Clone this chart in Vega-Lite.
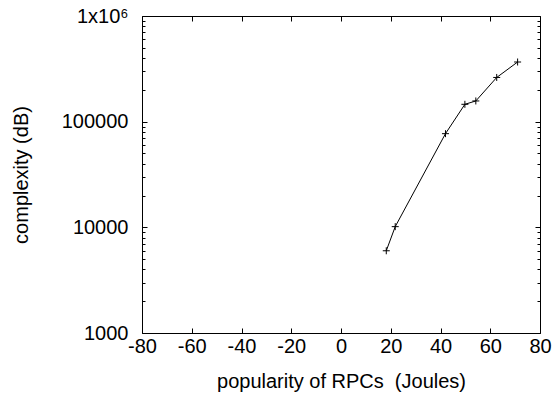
{
  "$schema": "https://vega.github.io/schema/vega-lite/v6.json",
  "autosize": "none",
  "width": 398,
  "height": 317,
  "padding": {"left": 142, "top": 16, "right": 20, "bottom": 68},
  "background": "white",
  "config": {
    "font": "Liberation Sans",
    "view": {"stroke": "black", "strokeWidth": 1},
    "axis": {
      "domain": false,
      "grid": false,
      "labelFont": "Liberation Sans",
      "labelFontSize": 20,
      "labelColor": "black",
      "titleFont": "Liberation Sans",
      "titleFontSize": 20,
      "titleFontWeight": "normal",
      "titleColor": "black",
      "tickColor": "black",
      "tickWidth": 1,
      "labelFlush": false,
      "labelOverlap": false
    }
  },
  "data": {
    "values": [
      {"x": 18.2, "y": 6000},
      {"x": 21.8, "y": 10150},
      {"x": 42.0, "y": 77000},
      {"x": 49.8, "y": 146000},
      {"x": 54.2, "y": 157000},
      {"x": 62.6, "y": 262000},
      {"x": 71.0, "y": 367000}
    ]
  },
  "layer": [
    {
      "mark": {"type": "line", "color": "black", "strokeWidth": 1},
      "encoding": {
        "x": {
          "field": "x", "type": "quantitative",
          "scale": {"domain": [-80, 80], "nice": false, "zero": false},
          "axis": {
            "orient": "bottom",
            "title": "popularity of RPCs \u00a0(Joules)",
            "values": [-80, -60, -40, -20, 0, 20, 40, 60, 80],
            "labelExpr": "'' + datum.value",
            "tickSize": -5,
            "labelPadding": 8,
            "titlePadding": 15
          }
        },
        "y": {
          "field": "y", "type": "quantitative",
          "scale": {"type": "log", "domain": [1000, 1000000], "nice": false},
          "axis": {
            "orient": "left",
            "title": "complexity (dB)",
            "values": [1000,2000,3000,4000,5000,6000,7000,8000,9000,10000,20000,30000,40000,50000,60000,70000,80000,90000,100000,200000,300000,400000,500000,600000,700000,800000,900000,1000000],
            "labelExpr": "datum.value == 1000000 ? '1x10\u2076' : (indexof([1000,10000,100000], datum.value) >= 0 ? format(datum.value, 'd') : '')",
            "tickSize": {"condition": {"test": "indexof([1000,10000,100000,1000000], datum.value) >= 0", "value": -5}, "value": -3},
            "labelPadding": 19,
            "titlePadding": 30
          }
        }
      }
    },
    {
      "mark": {"type": "point", "shape": "M-1,0H1M0,-1V1", "filled": false, "color": "black", "strokeWidth": 1, "size": 49, "opacity": 1},
      "encoding": {
        "x": {
          "field": "x", "type": "quantitative",
          "axis": {
            "orient": "top",
            "title": null,
            "labels": false,
            "values": [-80, -60, -40, -20, 0, 20, 40, 60, 80],
            "tickSize": -5
          }
        },
        "y": {
          "field": "y", "type": "quantitative",
          "axis": {
            "orient": "right",
            "title": null,
            "labels": false,
            "values": [1000,2000,3000,4000,5000,6000,7000,8000,9000,10000,20000,30000,40000,50000,60000,70000,80000,90000,100000,200000,300000,400000,500000,600000,700000,800000,900000,1000000],
            "tickSize": {"condition": {"test": "indexof([1000,10000,100000,1000000], datum.value) >= 0", "value": -5}, "value": -3}
          }
        }
      }
    }
  ]
}
